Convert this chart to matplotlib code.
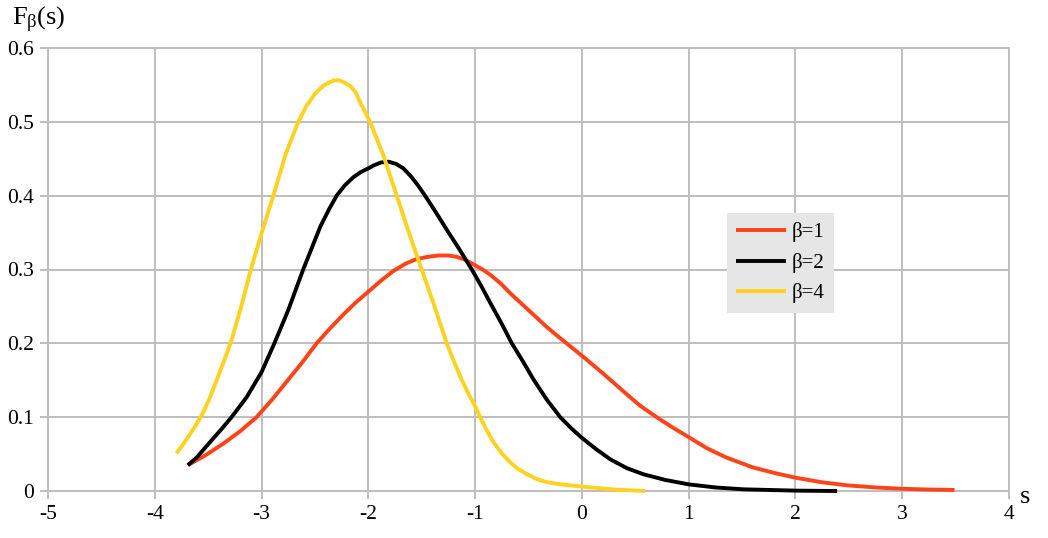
import matplotlib
matplotlib.use("Agg")
import matplotlib.pyplot as plt

plt.rcParams['font.family'] = ['Liberation Serif', 'DejaVu Serif']
plt.rcParams['mathtext.fontset'] = 'custom'
plt.rcParams['mathtext.rm'] = 'Liberation Serif'
plt.rcParams['mathtext.it'] = 'Liberation Serif'
plt.rcParams['axes.unicode_minus'] = False

# beta = 1
s1 = [-3.69, -3.53, -3.36, -3.2, -3.047, -2.9, -2.766, -2.62, -2.484, -2.36, -2.234,
      -2.12, -2.0, -1.88, -1.766, -1.65, -1.55, -1.45, -1.344, -1.25,
      -1.17, -1.09, -1.016, -0.93, -0.85, -0.76, -0.672, -0.59, -0.5, -0.41, -0.328,
      -0.22, -0.1, 0.044, 0.2, 0.31, 0.42, 0.55, 0.70, 0.85,
      1.0, 1.17, 1.35, 1.6, 1.8, 2.0, 2.24, 2.48, 2.75, 3.0, 3.25, 3.49]
f1 = [0.035, 0.048, 0.064, 0.081, 0.100, 0.124, 0.148, 0.174, 0.200, 0.220, 0.239,
      0.255, 0.270, 0.285, 0.298, 0.308, 0.314, 0.317, 0.319, 0.319,
      0.317, 0.313, 0.307, 0.300, 0.292, 0.281, 0.268, 0.257, 0.245, 0.233, 0.222,
      0.209, 0.195, 0.178, 0.159, 0.145, 0.131, 0.115, 0.100, 0.086,
      0.073, 0.058, 0.0455, 0.032, 0.0245, 0.018, 0.012, 0.0077, 0.0048, 0.003, 0.002, 0.0014]

# beta = 2
s2 = [-3.69, -3.65, -3.61, -3.55, -3.484, -3.38, -3.281, -3.14, -3.0, -2.88,
      -2.75, -2.61, -2.45, -2.37, -2.297, -2.22, -2.14, -2.07, -2.0, -1.95, -1.88,
      -1.81, -1.74, -1.672, -1.6, -1.53, -1.469, -1.37, -1.266, -1.15, -1.031, -0.94,
      -0.859, -0.76, -0.656, -0.55, -0.453, -0.33, -0.203, -0.1, 0.0, 0.13, 0.265,
      0.42, 0.576, 0.78, 1.0, 1.25, 1.51, 2.0, 2.39]
f2 = [0.035, 0.040, 0.045, 0.055, 0.066, 0.083, 0.100, 0.127, 0.161, 0.200,
      0.245, 0.300, 0.358, 0.381, 0.400, 0.414, 0.425, 0.432, 0.437, 0.441, 0.445,
      0.446, 0.443, 0.437, 0.426, 0.413, 0.400, 0.378, 0.354, 0.328, 0.300, 0.277,
      0.255, 0.229, 0.200, 0.175, 0.151, 0.124, 0.100, 0.085, 0.072, 0.057, 0.043,
      0.031, 0.0227, 0.015, 0.009, 0.0048, 0.0023, 0.0005, 0.0]

# beta = 4
s4 = [-3.797, -3.74, -3.68, -3.62, -3.5625, -3.49, -3.42, -3.29, -3.19, -3.10, -3.0,
      -2.89, -2.77, -2.656, -2.578, -2.5, -2.422, -2.37, -2.322, -2.28, -2.25, -2.172,
      -2.12, -2.078, -1.984, -1.86, -1.734, -1.62, -1.50, -1.38, -1.266, -1.2, -1.13,
      -1.06, -1.0, -0.953, -0.89, -0.828, -0.75, -0.672, -0.6, -0.516, -0.42, -0.328,
      -0.2, 0.0, 0.3, 0.59]
f4 = [0.051, 0.062, 0.075, 0.088, 0.102, 0.124, 0.150, 0.200, 0.250, 0.300, 0.349,
      0.400, 0.458, 0.500, 0.522, 0.538, 0.549, 0.553, 0.556, 0.5565, 0.555, 0.549,
      0.540, 0.527, 0.500, 0.455, 0.400, 0.350, 0.300, 0.250, 0.200, 0.176, 0.152,
      0.131, 0.115, 0.100, 0.082, 0.066, 0.051, 0.039, 0.030, 0.023, 0.016, 0.012,
      0.009, 0.006, 0.002, 0.0]

labels = ['β=1', 'β=2', 'β=4']
colors = ['#ff4318', 'black', '#ffd21f']

xticks = [-5, -4, -3, -2, -1, 0, 1, 2, 3, 4]
yticks = [0, 0.1, 0.2, 0.3, 0.4, 0.5, 0.6]

fig = plt.figure(figsize=(10.48, 5.38), dpi=100)
ax = fig.add_axes([48/1048, 1-491/538, (1009-48)/1048, (491-48)/538])

for s, f, c, lab in zip([s1, s2, s4], [f1, f2, f4], colors, labels):
    ax.plot(s, f, color=c, lw=2.8, label=lab, clip_on=False,
            solid_capstyle='butt', solid_joinstyle='round', zorder=3)

ax.set_xlim(-5, 4)
ax.set_ylim(0, 0.6)
ax.set_xticks(xticks)
ax.set_xticklabels([str(t) for t in xticks])
ax.set_yticks(yticks)
ax.set_yticklabels(['0' if t == 0 else f'{t:.1f}' for t in yticks])
gc = '#bebebe'
ax.grid(True, color=gc, lw=1.4)
for sp in ax.spines.values():
    sp.set_color(gc)
    sp.set_linewidth(1.4)
ax.tick_params(axis='both', colors=gc, length=6, width=1.4, labelsize=15.5,
               labelcolor='black', pad=4)
ax.set_axisbelow(True)

fig.text(12/1048, 1-25/538, r'F$_{β}$(s)', fontsize=19, ha='left', va='baseline')
fig.text(1020/1048, 1-503/538, 's', fontsize=19, ha='left', va='baseline')

leg = ax.legend(loc='upper left', bbox_to_anchor=(727/1048, 1-213/538),
                bbox_transform=fig.transFigure, frameon=True, fancybox=False,
                facecolor='#e6e6e6', edgecolor='none', framealpha=1,
                fontsize=15, handlelength=2.4, handletextpad=0.25,
                labelspacing=0.5, borderpad=0.45, borderaxespad=0)
for h in leg.get_lines():
    h.set_linewidth(2.8)

fig.savefig('out.png', dpi=100)
